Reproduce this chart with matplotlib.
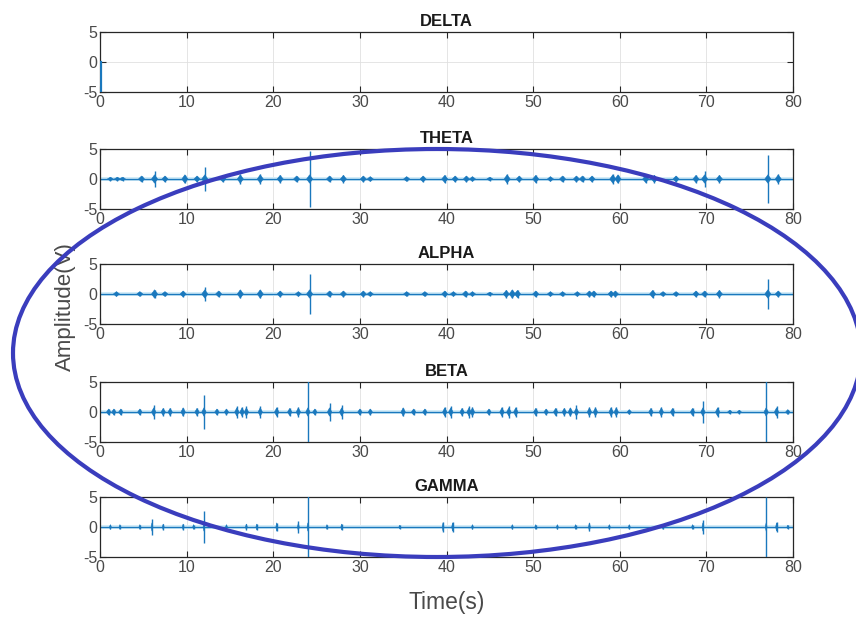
import matplotlib
matplotlib.use('Agg')
import matplotlib.pyplot as plt
from matplotlib.patches import Ellipse

plt.rcParams['font.family'] = ['Liberation Sans', 'DejaVu Sans']
plt.rcParams['axes.unicode_minus'] = False

# burst times (s) and peak amplitudes (V)
delta_t = [0.15, 0.15]
delta_v = [0.0, -6.0]

theta_t = [1.2, 2.0, 2.6, 4.8, 6.3, 7.5, 9.8, 11.2, 12.1, 14.2, 16.2, 18.5, 20.8, 22.7, 24.2,
           26.5, 28.1, 30.4, 31.2, 35.4, 37.3, 39.8, 41.0, 42.3, 43.0, 45.0, 47.0, 48.4, 50.3,
           52.0, 53.4, 55.0, 55.7, 56.8, 59.2, 59.8, 63.0, 64.0, 66.5, 68.8, 69.8, 71.5, 77.1, 78.3]
theta_a = [0.3, 0.3, 0.3, 0.5, 1.4, 0.5, 0.7, 0.5, 2.0, 0.5, 0.8, 0.8, 0.6, 0.5, 4.7,
           0.5, 0.6, 0.5, 0.4, 0.4, 0.5, 0.6, 0.5, 0.5, 0.4, 0.3, 0.8, 0.5, 0.6,
           0.4, 0.5, 0.5, 0.5, 0.5, 0.8, 0.7, 0.6, 0.6, 0.5, 0.6, 1.3, 0.6, 4.0, 0.8]

alpha_t = [1.9, 4.6, 6.3, 7.5, 9.6, 12.1, 13.7, 16.2, 18.5, 20.8, 22.9, 24.2, 26.5, 28.1,
           30.4, 31.2, 35.4, 37.5, 39.8, 40.8, 42.2, 43.0, 45.0, 46.9, 47.6, 48.2, 50.3, 52.0,
           53.4, 55.1, 56.5, 57.0, 59.0, 59.5, 63.8, 65.0, 66.5, 68.8, 69.8, 71.5, 77.1, 78.3]
alpha_a = [0.4, 0.4, 0.7, 0.4, 0.5, 1.2, 0.5, 0.7, 0.7, 0.5, 0.4, 3.3, 0.5, 0.5,
           0.5, 0.4, 0.4, 0.4, 0.5, 0.4, 0.5, 0.4, 0.3, 0.6, 0.7, 0.6, 0.5, 0.4,
           0.4, 0.4, 0.5, 0.5, 0.5, 0.5, 0.6, 0.4, 0.4, 0.5, 0.5, 0.6, 2.5, 0.5]

beta_t = [1.0, 1.6, 2.4, 4.6, 6.2, 7.3, 8.1, 9.6, 11.2, 12.0, 13.5, 14.6, 15.8, 16.4, 16.9,
          18.5, 20.4, 21.9, 22.9, 24.0, 24.8, 26.5, 27.9, 30.0, 31.2, 35.0, 36.2, 37.5, 39.8,
          40.5, 41.8, 42.6, 43.0, 44.9, 46.4, 47.2, 48.0, 50.3, 51.5, 52.6, 53.6, 54.3, 55.0,
          56.5, 57.2, 59.0, 59.6, 61.1, 63.6, 64.8, 66.1, 68.4, 69.6, 71.3, 72.7, 73.8, 76.9,
          78.1, 79.4]
beta_a = [0.5, 0.5, 0.5, 0.5, 1.1, 0.6, 0.6, 0.7, 0.6, 2.8, 0.5, 0.5, 1.0, 0.9, 1.0,
          1.0, 0.8, 0.6, 0.8, 5.5, 0.5, 1.5, 1.2, 0.5, 0.5, 0.7, 0.5, 0.5, 0.9,
          1.0, 0.6, 1.0, 0.9, 0.5, 0.9, 1.0, 0.9, 0.6, 0.5, 0.6, 0.6, 0.7, 1.2,
          0.8, 0.8, 0.8, 0.8, 0.4, 0.6, 0.8, 0.6, 0.6, 1.8, 0.8, 0.3, 0.3, 5.5,
          1.0, 0.4]

gamma_t = [1.2, 2.3, 4.6, 6.0, 7.3, 9.6, 10.8, 12.0, 14.6, 16.9, 18.1, 20.4, 22.9, 24.0,
           26.2, 27.9, 34.6, 39.6, 40.7, 43.0, 47.6, 50.3, 52.8, 54.9, 56.5, 58.8, 61.1,
           65.0, 68.4, 69.6, 76.9, 78.1, 79.4]
gamma_a = [0.4, 0.4, 0.4, 1.4, 0.5, 0.5, 0.4, 2.6, 0.4, 0.5, 0.5, 0.7, 1.0, 5.5,
           0.4, 0.5, 0.3, 0.8, 0.9, 0.4, 0.4, 0.4, 0.4, 0.4, 0.7, 0.4, 0.4,
           0.4, 0.4, 1.2, 5.0, 0.8, 0.3]

titles = ['DELTA', 'THETA', 'ALPHA', 'BETA', 'GAMMA']
bursts = [None, (theta_t, theta_a), (alpha_t, alpha_a), (beta_t, beta_a), (gamma_t, gamma_a)]
blob_w = [0, 0.35, 0.35, 0.25, 0.1]

line_col = '#1a78bd'
txt_col = '#4a4a4a'

fig = plt.figure(figsize=(8.56, 6.19), dpi=100)
W, H = 856.0, 619.0
ax_tops = [32, 149, 264, 382, 497]   # pixel rows of the axes tops
ax_h = 60

for i in range(5):
    ax = fig.add_axes([100 / W, 1 - (ax_tops[i] + ax_h) / H, 693 / W, ax_h / H])
    if i == 0:
        ax.plot(delta_t, delta_v, color=line_col, lw=1.6, zorder=5)
    else:
        tt, aa = bursts[i]
        w = blob_w[i]
        ax.fill_between([0, 80], -0.3, 0.3, color='#d3ecf8', lw=0, zorder=1)
        ax.plot([0, 80], [0, 0], color=line_col, lw=1.0, zorder=2)
        ax.vlines(tt, [-a for a in aa], aa, color=line_col, lw=1.0, zorder=3)
        for t, a in zip(tt, aa):
            b = min(a, 0.7)
            ax.fill([t - w, t, t + w, t], [0, b, 0, -b], color=line_col, lw=0.4, zorder=3)
    ax.set_xlim(0, 80)
    ax.set_ylim(-5, 5)
    ax.set_xticks(range(0, 81, 10))
    ax.set_yticks([-5, 0, 5])
    ax.grid(True, color='#e0e0e0', lw=0.6)
    ax.set_axisbelow(True)
    ax.tick_params(direction='in', top=True, right=True, length=4, width=0.8,
                   labelsize=11.5, labelcolor=txt_col, color='#262626', pad=2)
    for sp in ax.spines.values():
        sp.set_color('#262626')
        sp.set_linewidth(0.9)
    ax.set_title(titles[i], fontsize=12, fontweight='bold', color='#1a1a1a', pad=4)

fig.text(65 / W, 1 - 307 / H, 'Amplitude(V)', rotation=90, fontsize=16,
         color=txt_col, ha='center', va='center')
fig.text(447 / W, 1 - 603 / H, 'Time(s)', fontsize=16.5, color=txt_col,
         ha='center', va='center')

# hand-drawn ring over the figure, in pixel units
ov = fig.add_axes([0, 0, 1, 1], zorder=10)
ov.set_xlim(0, W)
ov.set_ylim(0, H)
ov.axis('off')
ov.patch.set_alpha(0)
ov.add_patch(Ellipse((437, H - 353), 848, 408, fill=False, ec='#3a3dbd', lw=3.0))

fig.savefig('out.png', dpi=100)
